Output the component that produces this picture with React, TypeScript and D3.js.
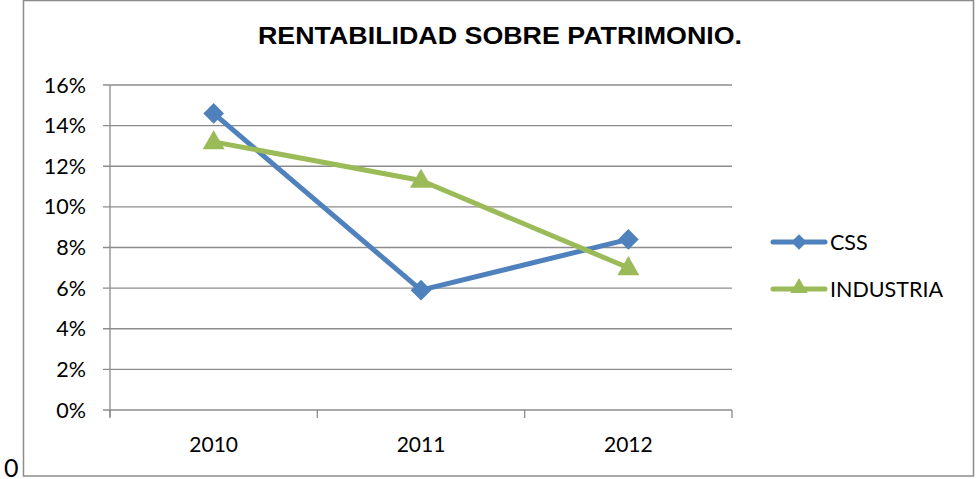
import React, { useEffect, useRef } from 'react';
import * as d3 from 'd3';

const years = ['2010', '2011', '2012'];
const cssValues = [0.146, 0.059, 0.084];
const industriaValues = [0.132, 0.113, 0.07];
const yTicks = [0, 0.02, 0.04, 0.06, 0.08, 0.1, 0.12, 0.14, 0.16];

const BLUE = '#4F81BD';
const GREEN = '#9BBB59';
const GRID = '#8c8c8c';
const LABEL_FONT = 'Lato, "Open Sans", "Liberation Sans", sans-serif';

const App: React.FC = () => {
  const svgRef = useRef<SVGSVGElement | null>(null);

  useEffect(() => {
    if (!svgRef.current) return;
    const width = 977;
    const height = 479;
    const svg = d3.select(svgRef.current).attr('width', width).attr('height', height);
    svg.selectAll('*').remove();

    svg.append('rect').attr('width', width).attr('height', height).attr('fill', '#fff');

    // Outer chart border
    svg.append('rect')
      .attr('x', 23.5).attr('y', 0.5)
      .attr('width', 950).attr('height', 475.5)
      .attr('fill', 'none').attr('stroke', GRID).attr('stroke-width', 1.5);

    // stray "0" outside the frame
    svg.append('text')
      .attr('x', 4).attr('y', 477)
      .style('font-family', LABEL_FONT).style('font-size', '25px')
      .attr('fill', '#000').text('0');

    const left = 110;
    const right = 732;
    const top = 85;
    const bottom = 410;

    const x = d3.scaleBand().domain(years).range([left, right]);
    const y = d3.scaleLinear().domain([0, 0.16]).range([bottom, top]);
    const cx = (d: string) => (x(d) ?? 0) + x.bandwidth() / 2;

    // Gridlines
    svg.append('g')
      .selectAll('line')
      .data(yTicks)
      .enter()
      .append('line')
      .attr('x1', left - 7).attr('x2', right)
      .attr('y1', d => y(d)).attr('y2', d => y(d))
      .attr('stroke', GRID).attr('stroke-width', 1.3);

    // Y axis line
    svg.append('line')
      .attr('x1', left).attr('x2', left).attr('y1', top).attr('y2', bottom + 7)
      .attr('stroke', GRID).attr('stroke-width', 1.3);

    // X axis ticks at band boundaries
    const bounds = [left, ...years.map(d => (x(d) ?? 0) + x.bandwidth())];
    svg.append('g')
      .selectAll('line')
      .data(bounds)
      .enter()
      .append('line')
      .attr('x1', d => d).attr('x2', d => d)
      .attr('y1', bottom).attr('y2', bottom + 8)
      .attr('stroke', GRID).attr('stroke-width', 1.3);

    // Y labels
    svg.append('g')
      .selectAll('text')
      .data(yTicks)
      .enter()
      .append('text')
      .attr('x', 86)
      .attr('y', d => y(d) + 7.5)
      .attr('text-anchor', 'end')
      .style('font-family', LABEL_FONT).style('font-size', '21.5px')
      .attr('fill', '#000')
      .text(d => d3.format('.0%')(d));

    // X labels
    svg.append('g')
      .selectAll('text')
      .data(years)
      .enter()
      .append('text')
      .attr('x', d => cx(d))
      .attr('y', 452)
      .attr('text-anchor', 'middle')
      .style('font-family', LABEL_FONT).style('font-size', '21px')
      .attr('fill', '#000')
      .text(d => d);

    // Title
    svg.append('text')
      .attr('x', 258).attr('y', 44)
      .attr('textLength', 484)
      .attr('lengthAdjust', 'spacingAndGlyphs')
      .style('font-family', '"Liberation Sans", Arial, sans-serif')
      .style('font-size', '23.5px').style('font-weight', 'bold')
      .attr('fill', '#000')
      .text('RENTABILIDAD SOBRE PATRIMONIO.');

    const diamond = d3.symbol().type(d3.symbolSquare).size(215);
    const triangle = d3.symbol().type(d3.symbolTriangle).size(210);

    const series = [
      { name: 'CSS', values: cssValues, color: BLUE, shape: 'diamond' },
      { name: 'INDUSTRIA', values: industriaValues, color: GREEN, shape: 'triangle' },
    ];

    const line = d3.line<number>()
      .x((_, i) => cx(years[i]))
      .y(d => y(d));

    series.forEach(s => {
      svg.append('path')
        .attr('d', line(s.values) || '')
        .attr('fill', 'none')
        .attr('stroke', s.color)
        .attr('stroke-width', 5)
        .attr('stroke-linejoin', 'round');
    });

    series.forEach(s => {
      svg.append('g')
        .selectAll('path')
        .data(s.values)
        .enter()
        .append('path')
        .attr('d', s.shape === 'diamond' ? diamond() : triangle())
        .attr('transform', (d, i) =>
          s.shape === 'diamond'
            ? `translate(${cx(years[i])},${y(d)}) rotate(45)`
            : `translate(${cx(years[i])},${y(d) + 1})`)
        .attr('fill', s.color);
    });

    // Legend
    const legendSmallDiamond = d3.symbol().type(d3.symbolSquare).size(120);
    const legendSmallTriangle = d3.symbol().type(d3.symbolTriangle).size(130);
    const legendY = [242, 289];
    series.forEach((s, i) => {
      const ly = legendY[i];
      svg.append('line')
        .attr('x1', 773).attr('x2', 825)
        .attr('y1', ly).attr('y2', ly)
        .attr('stroke', s.color).attr('stroke-width', 5)
        .attr('stroke-linecap', 'round');
      svg.append('path')
        .attr('d', s.shape === 'diamond' ? legendSmallDiamond() : legendSmallTriangle())
        .attr('transform', s.shape === 'diamond'
          ? `translate(799,${ly}) rotate(45)`
          : `translate(799,${ly - 1})`)
        .attr('fill', s.color);
      svg.append('text')
        .attr('x', 830).attr('y', ly + 7.5)
        .style('font-family', LABEL_FONT).style('font-size', '21.5px')
        .attr('fill', '#000')
        .text(s.name);
    });
  }, []);

  return (
    <div style={{ position: 'absolute', left: 0, top: 0 }}>
      <svg ref={svgRef}></svg>
    </div>
  );
};

export default App;
